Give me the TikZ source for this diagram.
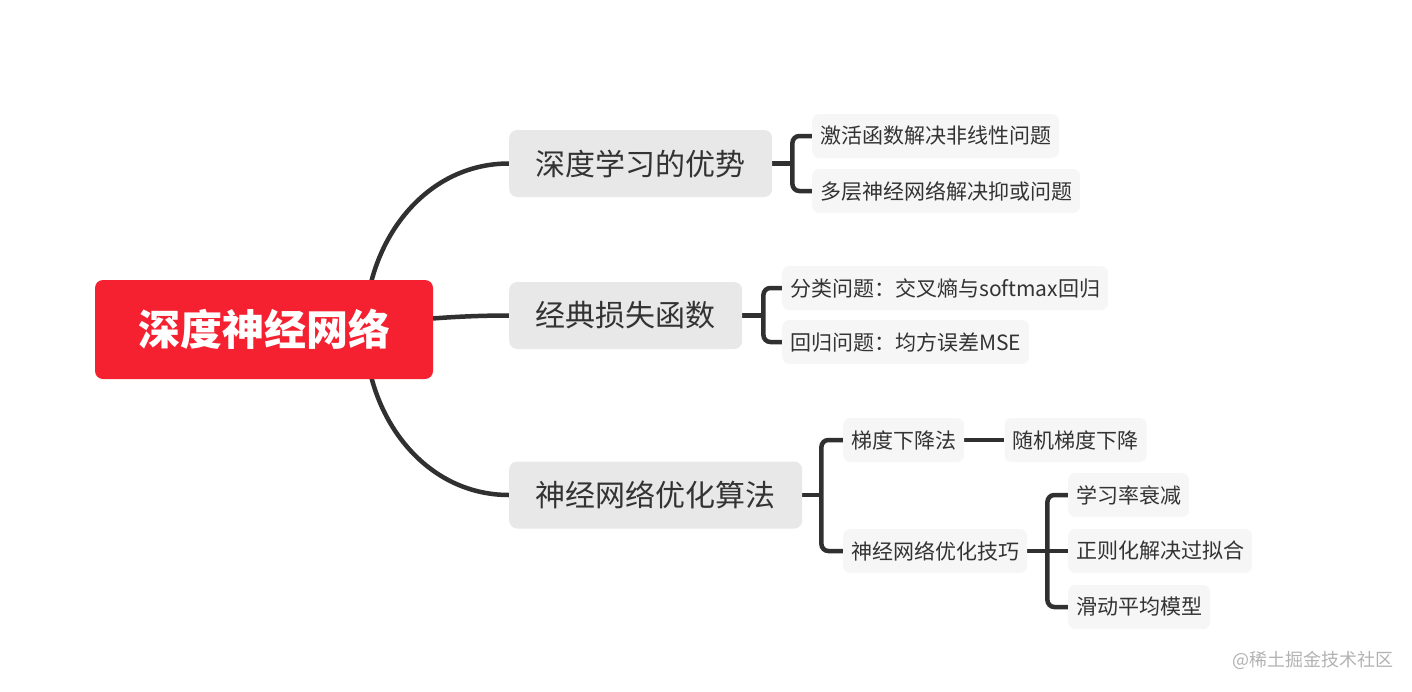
\documentclass[tikz,border=0pt]{standalone}
\usepackage{fontspec}
\setmainfont{Noto Sans CJK SC}
\usetikzlibrary{positioning,calc,backgrounds}
\definecolor{mRed}{RGB}{245,32,48}
\definecolor{mText}{RGB}{51,51,51}
\definecolor{mLine}{RGB}{48,48,48}
\definecolor{mFill}{RGB}{232,232,232}
\definecolor{mFill2}{RGB}{246,246,246}
\tikzset{
  root/.style={rectangle, rounded corners=8pt, fill=mRed, text=white,
               minimum height=99pt, inner xsep=43pt, inner ysep=0pt,
               font=\fontsize{42}{48}\selectfont\bfseries},
  topic/.style={rectangle, rounded corners=8pt, fill=mFill, text=mText,
                minimum height=67pt, inner xsep=26.5pt, inner ysep=0pt,
                font=\fontsize{30}{36}\selectfont},
  leaf/.style={rectangle, rounded corners=7pt, fill=mFill2, text=mText,
               minimum height=44pt, inner xsep=8pt, inner ysep=0pt,
               font=\fontsize{21}{26}\selectfont},
  link/.style={draw=mLine, line width=4.5pt},
  brace/.style={link, rounded corners=7pt},
  wmark/.style={text=black!30, font=\fontsize{18}{22}\selectfont, inner sep=0pt},
}

\begin{document}
\begin{tikzpicture}[x=1pt, y=1pt]
  \useasboundingbox (0,0) rectangle (1412,-691);

  % --- centre and the three topics ----------------------------------------
  \node[root] (net) at (264,-329.5) {深度神经网络};
  \node[topic, anchor=west] (adv)  at (509,-163.5) {深度学习的优势};
  \node[topic, anchor=west] (loss) at (509,-315.5) {经典损失函数};
  \node[topic, anchor=west] (opt)  at (509,-495)   {神经网络优化算法};

  % --- leaves ---------------------------------------------------------------
  \node[leaf, anchor=west] (act) at (812,-136) {激活函数解决非线性问题};
  \node[leaf, anchor=west] (mlp) at (812,-191) {多层神经网络解决抑或问题};
  \node[leaf, anchor=west] (cls) at (782,-288) {分类问题：交叉熵与softmax回归};
  \node[leaf, anchor=west] (reg) at (782,-342) {回归问题：均方误差MSE};
  \node[leaf, anchor=west] (gd)  at (843,-440) {梯度下降法};
  \node[leaf, right=40pt of gd] (sgd) {随机梯度下降};
  \node[leaf, anchor=west] (tips) at (843,-551) {神经网络优化技巧};
  \node[leaf, anchor=west] (lr)  at (1068,-495) {学习率衰减};
  \node[leaf, anchor=west] (reg2) at (1068,-551) {正则化解决过拟合};
  \node[leaf, anchor=west] (ema) at (1068,-607) {滑动平均模型};

  \node[wmark, anchor=west] (wm) at (1232,-660) {@稀土掘金技术社区};

  % --- connectors, behind the boxes ---------------------------------------
  \begin{scope}[on background layer]
    \draw[link] ($(net.east)+(-68,0)$) to[out=90,in=180] (adv.west);
    \draw[link] (net.center) to[out=0,in=180] (loss.west);
    \draw[link] ($(net.east)+(-68,0)$) to[out=-90,in=180] (opt.west);

    \draw[link] (adv.east) -- ++(20,0);
    \draw[brace] (act.west) -| ($(adv.east)+(20,0)$) |- (mlp.west);
    \draw[link] (loss.east) -- ++(21,0);
    \draw[brace] (cls.west) -| ($(loss.east)+(21,0)$) |- (reg.west);
    \draw[link] (opt.east) -- ++(19,0);
    \draw[brace] (gd.west) -| ($(opt.east)+(19,0)$) |- (tips.west);
    \draw[link] (gd) -- (sgd);
    \draw[link] (tips.east) -- (reg2.west);
    \draw[brace] (lr.west) -| ($(tips.east)+(20,0)$) |- (ema.west);
  \end{scope}
\end{tikzpicture}
\end{document}
